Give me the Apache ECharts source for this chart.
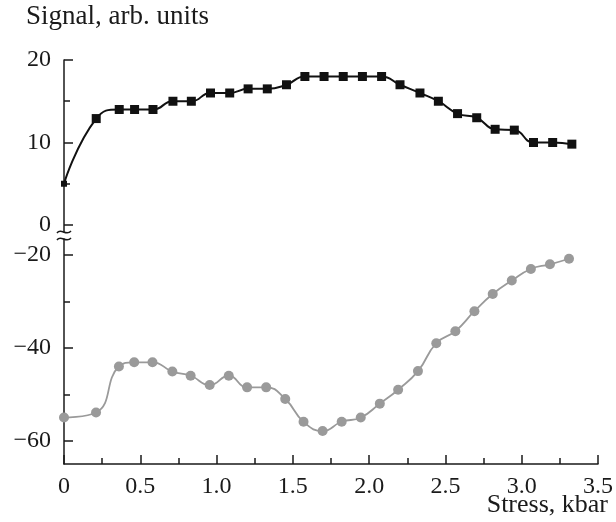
<!DOCTYPE html>
<html lang="en">
<head>
    <meta charset="UTF-8">
    <title>Signal vs stress</title>
    <script src="https://cdn.jsdelivr.net/npm/echarts@6/dist/echarts.min.js"></script>
    <style>
        html, body { margin: 0; padding: 0; background: #fff; }
        #chart { width: 616px; height: 522px; }
    </style>
</head>
<body>
    <div id="chart"></div>
    <script>
        // stress values (kbar), shared by both curves
        var stress = [0, 0.21, 0.36, 0.46, 0.58, 0.71, 0.83, 0.955, 1.08, 1.2, 1.325, 1.45,
            1.57, 1.695, 1.82, 1.945, 2.07, 2.19, 2.32, 2.44, 2.565, 2.69, 2.81, 2.935, 3.06, 3.185, 3.31];
        // black squares (upper panel)
        var upperSignal = [5, 12.9, 14, 14, 14, 15, 15, 16, 16, 16.5, 16.5, 17,
            18, 18, 18, 18, 18, 17, 16, 15, 13.5, 13, 11.6, 11.5, 10, 10, 9.8];
        // grey circles (lower panel)
        var lowerSignal = [-55, -53.9, -44, -43.1, -43.1, -45.1, -46, -48, -46, -48.5, -48.5, -51,
            -55.9, -57.9, -55.9, -55, -52, -49, -45, -39, -36.4, -32.1, -28.4, -25.5, -23, -22, -20.8];

        var xTicks = [0, 0.5, 1.0, 1.5, 2.0, 2.5, 3.0, 3.5];
        var upperLabels = [0, 10, 20];
        var upperMinor = [5, 15];
        var lowerLabels = [-60, -40, -20];
        var lowerMinor = [-50, -30];

        var font = 'Liberation Serif';
        var ink = '#1a1a1a';

        var chart = echarts.init(document.getElementById('chart'));

        function pairs(ys) {
            return stress.map(function (x, i) { return [x, ys[i]]; });
        }

        function minus(v) {
            return String(v).replace('-', '\u2212');
        }

        function majorY(gridIndex, min, max, labels) {
            return {
                type: 'value', gridIndex: gridIndex, position: 'left', offset: 0,
                min: min, max: max,
                axisLine: { show: true, lineStyle: { color: ink, width: 1.5 } },
                axisTick: { show: true, inside: true, length: 9, customValues: labels,
                    lineStyle: { color: ink, width: 1.5 } },
                axisLabel: { customValues: labels, formatter: minus, margin: 13,
                    color: ink, fontFamily: font, fontSize: 24 },
                splitLine: { show: false }
            };
        }

        function minorY(gridIndex, min, max, ticks) {
            return {
                type: 'value', gridIndex: gridIndex, position: 'left', offset: 0,
                min: min, max: max,
                axisLine: { show: false },
                axisTick: { show: true, inside: true, length: 6, customValues: ticks,
                    lineStyle: { color: ink, width: 1.5 } },
                axisLabel: { show: false },
                splitLine: { show: false }
            };
        }

        chart.setOption({
            animation: false,
            title: [{
                text: 'Signal, arb. units', left: 26, top: 3, padding: 0,
                textStyle: { fontFamily: font, fontSize: 27, fontWeight: 'normal', color: ink }
            }, {
                text: 'Stress, kbar', right: 8, top: 492, padding: 0,
                textStyle: { fontFamily: font, fontSize: 26, fontWeight: 'normal', color: ink }
            }],
            grid: [
                { left: 64, right: 15, top: 60, height: 172 },
                { left: 64, right: 15, top: 239, height: 225 }
            ],
            xAxis: [{
                type: 'value', gridIndex: 0, min: 0, max: 3.5, show: false
            }, {
                type: 'value', gridIndex: 1, min: 0, max: 3.5, interval: 0.5,
                axisLine: { show: true, lineStyle: { color: ink, width: 1.5 } },
                axisTick: { show: true, inside: true, length: 9, lineStyle: { color: ink, width: 1.5 } },
                minorTick: { show: true, splitNumber: 2, length: 6, lineStyle: { color: ink, width: 1.5 } },
                axisLabel: {
                    customValues: xTicks, margin: 11, color: ink, fontFamily: font, fontSize: 24,
                    formatter: function (v) { return v === 0 ? '0' : v.toFixed(1); }
                },
                splitLine: { show: false }
            }],
            yAxis: [
                majorY(0, -0.85, 20, upperLabels),
                minorY(0, -0.85, 20, upperMinor),
                majorY(1, -65, -16.55, lowerLabels),
                minorY(1, -65, -16.55, lowerMinor)
            ],
            graphic: [{
                type: 'bezierCurve',
                shape: { x1: 57, y1: 233, x2: 71, y2: 231, cpx1: 61, cpy1: 227, cpx2: 66, cpy2: 237 },
                style: { stroke: ink, lineWidth: 1.5, fill: null }
            }, {
                type: 'bezierCurve',
                shape: { x1: 57, y1: 240, x2: 71, y2: 238, cpx1: 61, cpy1: 234, cpx2: 66, cpy2: 244 },
                style: { stroke: ink, lineWidth: 1.5, fill: null }
            }],
            series: [{
                type: 'line', xAxisIndex: 0, yAxisIndex: 0,
                data: pairs(upperSignal),
                smooth: 0.5,
                symbol: 'rect',
                symbolSize: function (v, p) { return p.dataIndex === 0 ? 6 : 9; },
                lineStyle: { color: '#111', width: 2 },
                itemStyle: { color: '#111' },
                clip: false
            }, {
                type: 'line', xAxisIndex: 1, yAxisIndex: 2,
                data: pairs(lowerSignal),
                smooth: 0.5,
                symbol: 'circle',
                symbolSize: 10,
                lineStyle: { color: '#9a9a9a', width: 1.8 },
                itemStyle: { color: '#9a9a9a' },
                clip: false
            }]
        });
    </script>
</body>
</html>
